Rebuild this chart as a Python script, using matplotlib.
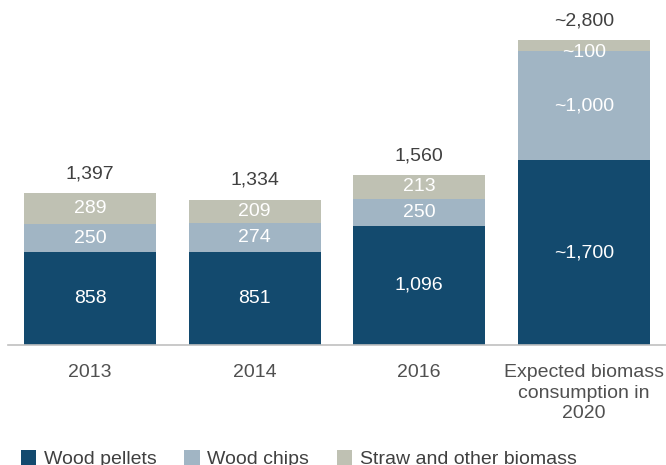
import matplotlib.pyplot as plt
import numpy as np

plt.rcParams["font.family"] = ["Liberation Sans", "DejaVu Sans"]

# Biomass consumption by fuel type
categories = ["2013", "2014", "2016", "Expected biomass\nconsumption in\n2020"]
wood_pellets = [858, 851, 1096, 1700]
wood_chips = [250, 274, 250, 1000]
straw_other = [289, 209, 213, 100]
totals = [1397, 1334, 1560, 2800]

pellet_labels = ["858", "851", "1,096", "~1,700"]
chip_labels = ["250", "274", "250", "~1,000"]
straw_labels = ["289", "209", "213", "~100"]
total_labels = ["1,397", "1,334", "1,560", "~2,800"]

c_pellets = "#134a6e"
c_chips = "#a1b5c4"
c_straw = "#bfc1b3"

fig = plt.figure(figsize=(6.66, 4.65), dpi=100)
ax = fig.add_axes([0.012, 0.258, 0.988, 0.742])

x = np.arange(len(categories))
width = 0.8
b1 = ax.bar(x, wood_pellets, width, color=c_pellets, label="Wood pellets")
b2 = ax.bar(x, wood_chips, width, bottom=wood_pellets, color=c_chips, label="Wood chips")
bottom3 = np.array(wood_pellets) + np.array(wood_chips)
b3 = ax.bar(x, straw_other, width, bottom=bottom3, color=c_straw,
            label="Straw and other biomass")

fs = 14
for i in range(len(categories)):
    ax.text(x[i], wood_pellets[i] / 2, pellet_labels[i], ha="center", va="center",
            color="white", fontsize=fs)
    ax.text(x[i], wood_pellets[i] + wood_chips[i] / 2, chip_labels[i], ha="center",
            va="center", color="white", fontsize=fs)
    # the thin top segment of the last bar gets its label nudged down a bit
    y3 = bottom3[i] + straw_other[i] / 2 - (60 if straw_other[i] < 150 else 0)
    ax.text(x[i], y3, straw_labels[i], ha="center", va="center", color="white",
            fontsize=fs)
    ax.text(x[i], totals[i] + 100, total_labels[i], ha="center", va="bottom",
            color="#404040", fontsize=fs)

ax.set_xlim(-0.5, 3.5)
ax.set_ylim(0, 3170)
ax.set_xticks(x)
ax.set_xticklabels(categories, fontsize=fs, color="#505050", linespacing=1.25)
ax.tick_params(axis="x", length=0, pad=14)
ax.set_yticks([])
for side in ["left", "right", "top"]:
    ax.spines[side].set_visible(False)
ax.spines["bottom"].set_color("#c0c0c0")
ax.spines["bottom"].set_linewidth(1.2)

fig.legend(handles=[b1, b2, b3], loc="lower left", bbox_to_anchor=(0.005, -0.045),
           ncol=3, frameon=False, fontsize=fs, handlelength=0.8, handleheight=0.8,
           handletextpad=0.4, columnspacing=1.4, labelcolor="#404040")

fig.savefig("out.png", dpi=100)
